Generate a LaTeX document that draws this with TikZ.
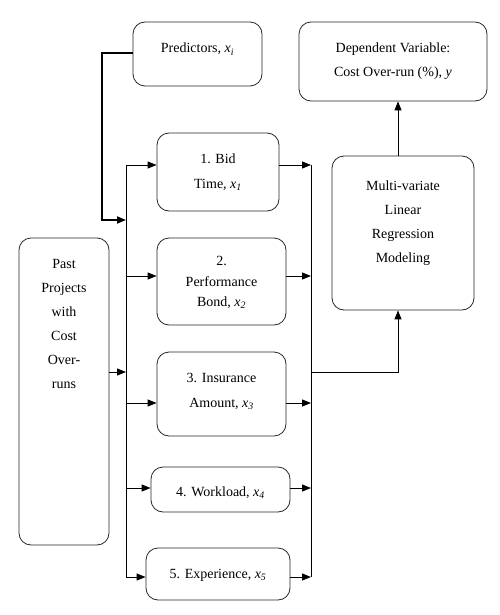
\documentclass[tikz,border=0pt]{standalone}
\usepackage{fontspec}
\setmainfont{Liberation Serif}[ItalicFont={Liberation Serif Italic}]
\newfontfamily\serfont{Liberation Serif}
\usetikzlibrary{arrows.meta}
\newcommand{\xv}[1]{\textit{x\textsubscript{#1}}}
\tikzset{
  box/.style={draw=black!85, line width=0.8pt, rounded corners=12pt, inner sep=0pt},
  txt/.style={font=\serfont\fontsize{14}{24}\selectfont, align=center, anchor=base, inner sep=0pt},
  conn/.style={line width=0.9pt, draw=black},
  arr/.style={conn, -{Triangle[length=9pt,width=7pt]}},
}
\begin{document}
\begin{tikzpicture}[x=1pt,y=-1pt]
\useasboundingbox (0,0) rectangle (500,615);
% boxes
\node[box, minimum width=129pt, minimum height=64pt] (pred) at (197.5,54) {};
\node[box, minimum width=188pt, minimum height=79pt] (dv) at (393,61.5) {};
\node[box, minimum width=122pt, minimum height=78pt] (bid) at (218,172) {};
\node[box, minimum width=142pt, minimum height=154pt] (mlr) at (403,233) {};
\node[box, minimum width=90pt, minimum height=307pt] (past) at (64,391.5) {};
\node[box, minimum width=129pt, minimum height=87pt] (perf) at (221.5,281.5) {};
\node[box, minimum width=129pt, minimum height=84pt] (ins) at (221.5,394) {};
\node[box, minimum width=139pt, minimum height=45pt] (work) at (220.5,489.5) {};
\node[box, minimum width=144pt, minimum height=52pt] (exp) at (218,574) {};
% texts
\node[txt] (predT) at (197.5,53) {Predictors, \xv{i}};
\node[txt] (dvT1) at (393,53) {Dependent Variable:};
\node[txt] (dvT2) at (393,77) {Cost Over-run (\%), \textit{y}};
\node[txt] (bidT1) at (218,163) {1. Bid};
\node[txt] (bidT2) at (218,188) {Time, \xv{1}};
\node[txt] (mlrT1) at (403,190) {Multi-variate};
\node[txt] (mlrT2) at (403,214) {Linear};
\node[txt] (mlrT3) at (403,238) {Regression};
\node[txt] (mlrT4) at (403,262) {Modeling};
\node[txt] (pastT1) at (64,268) {Past};
\node[txt] (pastT2) at (64,292) {Projects};
\node[txt] (pastT3) at (64,316) {with};
\node[txt] (pastT4) at (64,340) {Cost};
\node[txt] (pastT5) at (64,364) {Over-};
\node[txt] (pastT6) at (64,388) {runs};
\node[txt] (perfT1) at (221.5,265) {2.};
\node[txt] (perfT2) at (221.5,286) {Performance};
\node[txt] (perfT3) at (221.5,306) {Bond, \xv{2}};
\node[txt] (insT1) at (221.5,382) {3. Insurance};
\node[txt] (insT2) at (221.5,407) {Amount, \xv{3}};
\node[txt] (workT) at (220.5,496) {4. Workload, \xv{4}};
\node[txt] (expT) at (218,578) {5. Experience, \xv{5}};
% bus coordinates
\coordinate (L1) at (126,165);
\coordinate (L2) at (126,276);
\coordinate (L3) at (126,403);
\coordinate (L4) at (126,488);
\coordinate (L5) at (126,577);
\coordinate (Lp) at (126,220);
\coordinate (Lq) at (126,372);
\coordinate (R1) at (311,165);
\coordinate (R2) at (311,276);
\coordinate (R3) at (311,403);
\coordinate (R4) at (311,488);
\coordinate (R5) at (311,577);
\coordinate (Rm) at (311,372);
\coordinate (Mx) at (398,372);
\coordinate (P1) at (133,53);
\coordinate (P2) at (102,53);
\coordinate (P3) at (102,220);
% predictors line
\draw[line width=1.7pt, -{Triangle[length=9pt,width=7pt]}] (P1) -- (P2) -- (P3) -- (Lp);
% buses
\draw[conn] (L1) -- (L5);
\draw[conn] (R1) -- (R5);
% inputs
\draw[arr] (L1) -- (L1 -| bid.west);
\draw[arr] (L2) -- (L2 -| perf.west);
\draw[arr] (L3) -- (L3 -| ins.west);
\draw[arr] (L4) -- (L4 -| work.west);
\draw[arr] (L5) -- (L5 -| exp.west);
\draw[arr] (Lq -| past.east) -- (Lq);
% outputs
\draw[arr] (R1 -| bid.east) -- (R1);
\draw[arr] (R2 -| perf.east) -- (R2);
\draw[arr] (R3 -| ins.east) -- (R3);
\draw[arr] (R4 -| work.east) -- (R4);
\draw[arr] (R5 -| exp.east) -- (R5);
\draw[arr] (Rm) -- (Mx) -- (Mx |- mlr.south);
\draw[arr] (Mx |- mlr.north) -- (Mx |- dv.south);
\end{tikzpicture}
\end{document}
